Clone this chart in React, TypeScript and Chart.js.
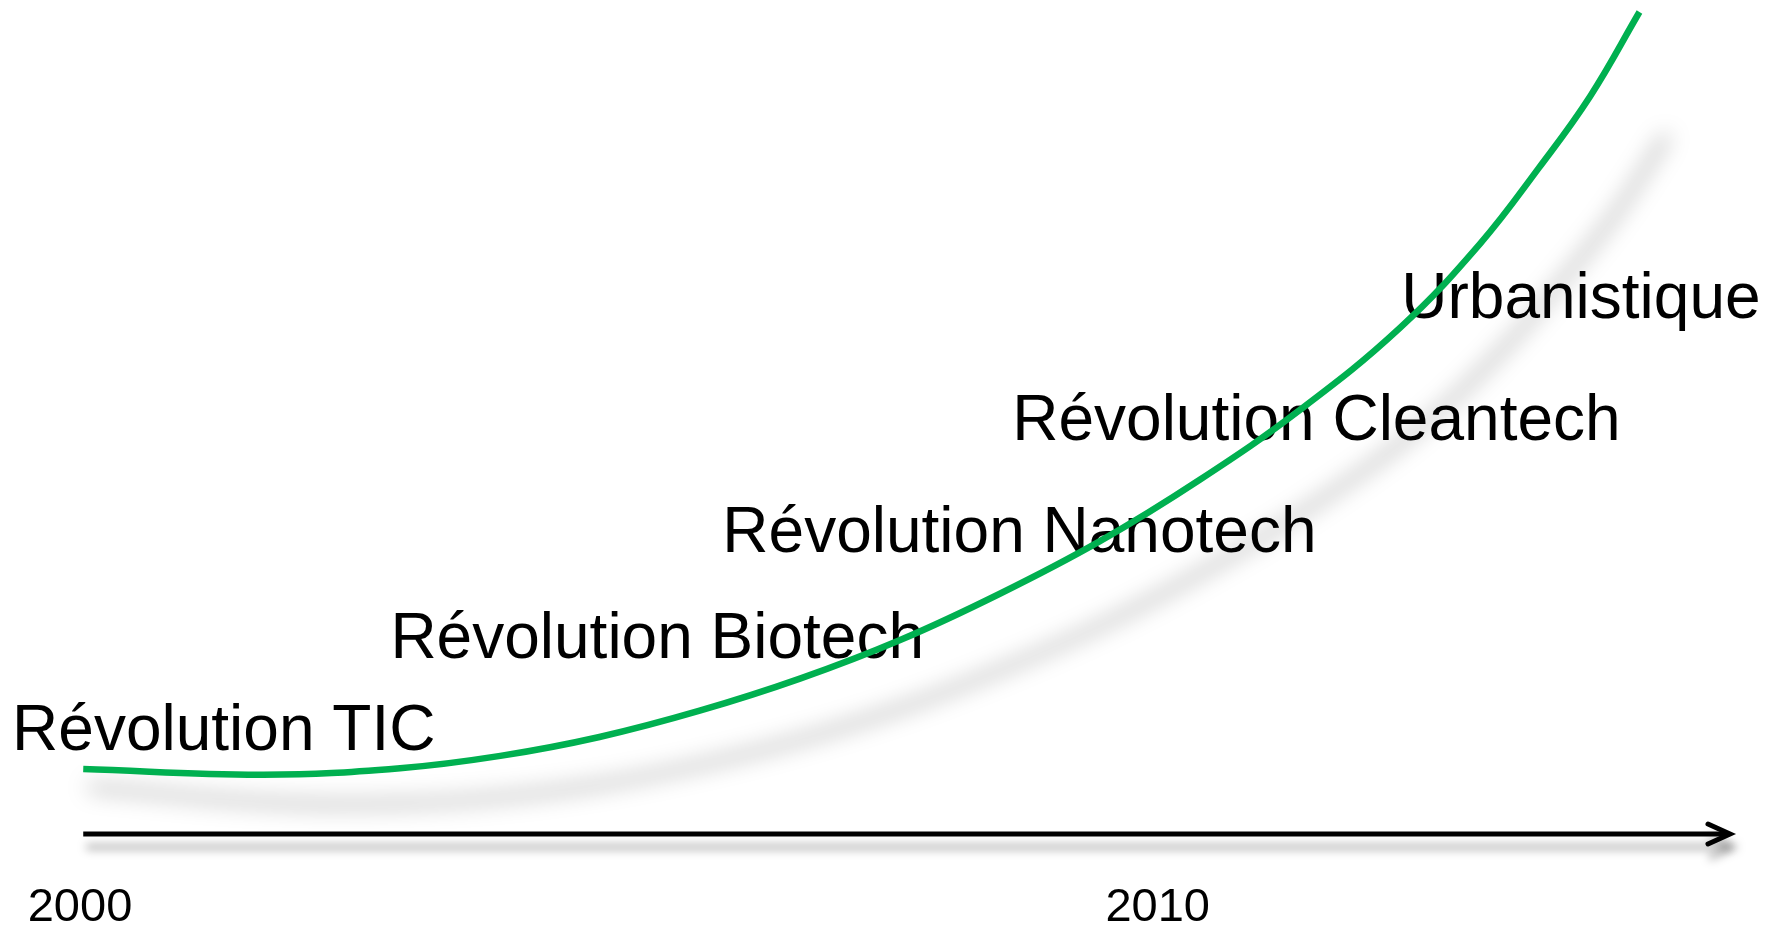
import React, { useEffect, useRef } from "react";
import { Chart, registerables } from "chart.js";

Chart.register(...registerables);

// Curve: year vs. growth index (0 = axis, 100 = top of the chart)
const years = [2000.03, 2001.7, 2002.97, 2003.9, 2004.82, 2005.75, 2006.68, 2007.61, 2008.53, 2009.46, 2010.39, 2011.32, 2012.25, 2012.99, 2013.54, 2014.01, 2014.47];
const growth = [7.9, 7.2, 8.0, 9.5, 11.8, 15.0, 18.9, 23.6, 29.2, 35.6, 43.1, 51.6, 61.6, 71.8, 81.1, 89.7, 100];

// Axis ticks
const tickYears = [2000, 2010];
const xMin = 2000;
const xMax = 2015.31;
const yMin = 0;
const yMax = 100;

// Phase labels (anchored at left / baseline, in data coordinates)
const phaseLabels = ["Révolution TIC", "Révolution Biotech", "Révolution Nanotech", "Révolution Cleantech", "Urbanistique"];
const labelYears = [1999.37, 2002.88, 2005.96, 2008.65, 2012.26];
const labelLevels = [10.2, 21.4, 34.3, 47.9, 62.8];

const GREEN = "#00B050";
const FONT = '"Liberation Sans", Arial, sans-serif';

const decorPlugin = {
  id: "decor",
  beforeDatasetsDraw(chart: any) {
    const ctx = chart.ctx as CanvasRenderingContext2D;
    const xs = chart.scales.x;
    const ys = chart.scales.y;
    const base = ys.getPixelForValue(0);
    const x0 = xs.getPixelForValue(years[0]);
    const x1 = chart.chartArea.right;

    // Soft perspective shadow of the curve
    const meta = chart.getDatasetMeta(0);
    const OFF = 10000;
    const sh = 0.03;
    ctx.save();
    ctx.shadowColor = "rgba(0,0,0,0.36)";
    ctx.shadowBlur = 22;
    ctx.shadowOffsetX = OFF;
    ctx.shadowOffsetY = 0;
    ctx.setTransform(1, 0.054, -sh, 0.972, 3 + sh * base - OFF, 34.9);
    meta.dataset.draw(ctx, chart.chartArea);
    ctx.restore();

    // Axis arrow with shadow
    ctx.save();
    ctx.strokeStyle = "#000";
    ctx.lineWidth = 5;
    ctx.shadowColor = "rgba(0,0,0,0.35)";
    ctx.shadowBlur = 10;
    ctx.shadowOffsetX = 3;
    ctx.shadowOffsetY = 13;
    ctx.lineCap = "butt";
    ctx.beginPath();
    ctx.moveTo(x0, base);
    ctx.lineTo(x1 - 2, base);
    ctx.stroke();
    ctx.lineCap = "round";
    ctx.lineJoin = "miter";
    ctx.beginPath();
    ctx.moveTo(x1 - 22, base - 10);
    ctx.lineTo(x1, base);
    ctx.lineTo(x1 - 22, base + 10);
    ctx.stroke();
    ctx.restore();

    // Phase labels
    ctx.save();
    ctx.fillStyle = "#000";
    ctx.font = `64px ${FONT}`;
    ctx.textAlign = "left";
    ctx.textBaseline = "alphabetic";
    phaseLabels.forEach((t, i) => {
      ctx.fillText(t, xs.getPixelForValue(labelYears[i]), ys.getPixelForValue(labelLevels[i]));
    });
    ctx.restore();
  },
};

export default function App() {
  const ref = useRef<HTMLCanvasElement | null>(null);
  useEffect(() => {
    if (!ref.current) return;
    const chart = new Chart(ref.current, {
      type: "line",
      data: {
        datasets: [
          {
            data: years.map((x, i) => ({ x, y: growth[i] })),
            borderColor: GREEN,
            borderWidth: 6.5,
            pointRadius: 0,
            tension: 0.4,
            fill: false,
            clip: false as any,
          },
        ],
      },
      options: {
        responsive: false,
        animation: false,
        events: [],
        layout: { padding: { left: 80, right: 51, top: 12, bottom: 0 } },
        plugins: { legend: { display: false }, tooltip: { enabled: false } },
        scales: {
          x: {
            type: "linear",
            min: xMin,
            max: xMax,
            grid: { display: false, drawTicks: false },
            border: { display: false },
            afterBuildTicks: (scale: any) => {
              scale.ticks = tickYears.map((v) => ({ value: v }));
            },
            afterFit: (scale: any) => {
              scale.height = 92;
              scale.paddingLeft = 0;
              scale.paddingRight = 0;
            },
            ticks: {
              autoSkip: false,
              maxRotation: 0,
              padding: 46,
              color: "#000",
              font: { family: FONT, size: 47 },
              callback: (v: any) => String(v),
            },
          },
          y: { type: "linear", display: false, min: yMin, max: yMax },
        },
      },
      plugins: [decorPlugin],
    });
    return () => chart.destroy();
  }, []);
  return (
    <div style={{ position: "absolute", left: 0, top: 0, width: 1781, height: 926, background: "#fff" }}>
      <canvas ref={ref} width={1781} height={926} style={{ display: "block" }} />
    </div>
  );
}
